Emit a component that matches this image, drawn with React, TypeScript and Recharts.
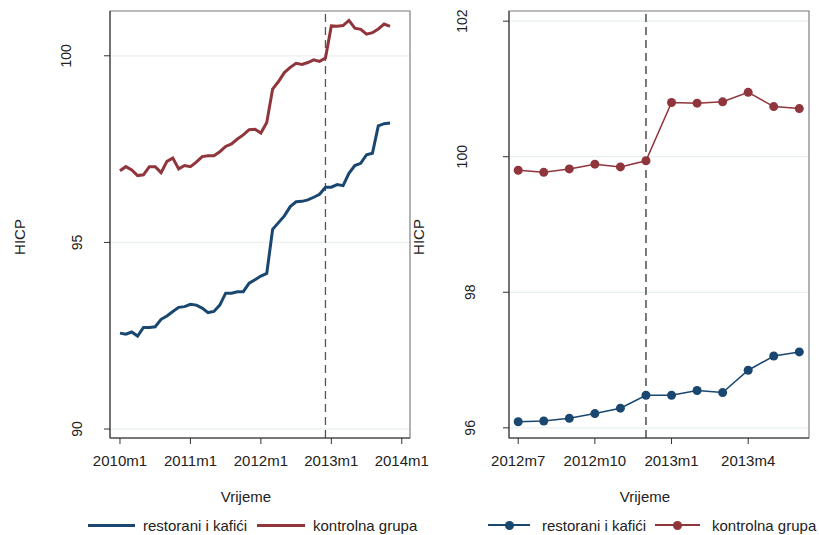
import React from 'react';
import { LineChart, Line, XAxis, YAxis, CartesianGrid, ReferenceLine, ReferenceArea } from 'recharts';

// HICP, monthly from 2010m1 to 2013m11
const restorani = [
  92.57, 92.54, 92.6, 92.49, 92.72, 92.72, 92.74, 92.94, 93.03, 93.15,
  93.26, 93.28, 93.34, 93.32, 93.24, 93.12, 93.15, 93.32, 93.64, 93.64,
  93.68, 93.68, 93.91, 94.0, 94.1, 94.17, 95.35, 95.53, 95.71, 95.96,
  96.09, 96.1, 96.14, 96.21, 96.29, 96.48, 96.48, 96.55, 96.52, 96.85,
  97.06, 97.12, 97.35, 97.39, 98.12, 98.18, 98.2,
];
const kontrolna = [
  96.92, 97.03, 96.94, 96.79, 96.81, 97.03, 97.03, 96.87, 97.17, 97.26,
  96.97, 97.06, 97.03, 97.15, 97.3, 97.32, 97.32, 97.43, 97.57, 97.64,
  97.77, 97.88, 98.02, 98.03, 97.93, 98.21, 99.11, 99.31, 99.55, 99.69,
  99.8, 99.77, 99.82, 99.89, 99.85, 99.94, 100.8, 100.79, 100.81, 100.95,
  100.74, 100.71, 100.58, 100.62, 100.72, 100.85, 100.79,
];

// left panel ticks (month index from 2010m1)
const leftTicks = [0, 12, 24, 36, 48];
const leftTickLabels = ['2010m1', '2011m1', '2012m1', '2013m1', '2014m1'];
const leftYTicks = [90, 95, 100];

// right panel: 2012m7 .. 2013m6 (index 30..41 of the full series)
const zoomStart = 30;
const zoomEnd = 42;
const rightTicks = [0, 3, 6, 9];
const rightTickLabels = ['2012m7', '2012m10', '2013m1', '2013m4'];
const rightYTicks = [96, 98, 100, 102];

const BLUE = '#1a476f';
const RED = '#90353b';
const GRID = '#e8f0f2';
const FONT = '"Liberation Sans", Arial, sans-serif';

const leftData = restorani.map((v, i) => ({ t: i, restorani: v, kontrolna: kontrolna[i] }));
const rightData = restorani
  .slice(zoomStart, zoomEnd)
  .map((v, i) => ({ t: i, restorani: v, kontrolna: kontrolna[zoomStart + i] }));

const YTick = ({ y, payload, cx3, cx2 }: any) => {
  const s = String(payload.value);
  const cx = s.length >= 3 ? cx3 : cx2;
  return (
    <text
      x={cx}
      y={y}
      transform={`rotate(-90 ${cx} ${y})`}
      textAnchor="middle"
      dominantBaseline="central"
      fontSize={14}
      fontFamily={FONT}
      fill="#222"
    >
      {s}
    </text>
  );
};

const AxisTitle = ({ x, y, text, rotate }: any) => (
  <text
    x={x}
    y={y}
    transform={rotate ? `rotate(-90 ${x} ${y})` : undefined}
    textAnchor="middle"
    dominantBaseline="central"
    fontSize={15}
    fontFamily={FONT}
    fill="#222"
  >
    {text}
  </text>
);

const LegendItem = ({ left, color, dot, thick, label, lineW, gap }: any) => (
  <div style={{ position: 'absolute', left, top: 515, height: 20, display: 'flex', alignItems: 'center' }}>
    <div style={{ position: 'relative', width: lineW, height: 20 }}>
      <div style={{ position: 'absolute', left: 0, right: 0, top: 10 - thick / 2, height: thick, background: color }} />
      {dot && (
        <div style={{ position: 'absolute', left: lineW / 2 - 4.5, top: 5.5, width: 9, height: 9, borderRadius: 5, background: color }} />
      )}
    </div>
    <span style={{ marginLeft: gap, fontSize: 15, color: '#222', whiteSpace: 'nowrap' }}>{label}</span>
  </div>
);

export default function App() {
  return (
    <div style={{ position: 'fixed', left: 0, top: 0, width: 819, height: 535, background: '#fff', fontFamily: FONT, overflow: 'hidden' }}>
      <div style={{ position: 'absolute', left: 410, top: 0 }}>
        <LineChart width={409} height={510} data={rightData} margin={{ top: 11, right: 10, left: 0, bottom: 0 }}>
          <CartesianGrid horizontal vertical={false} stroke={GRID} strokeWidth={1.2} />
          <ReferenceArea x1={-0.36} x2={11.38} y1={95.85} y2={102.15} fill="none" stroke="#808080" strokeWidth={1.2} />
          <XAxis
            dataKey="t"
            type="number"
            domain={[-0.36, 11.38]}
            ticks={rightTicks}
            allowDataOverflow
            height={72}
            tickSize={6}
            tickMargin={11}
            stroke="#333"
            tick={{ fontSize: 15, fill: '#222', fontFamily: FONT }}
            tickFormatter={(v: number) => rightTickLabels[rightTicks.indexOf(v)]}
            label={{ content: () => <AxisTitle x={235} y={496} text="Vrijeme" /> }}
          />
          <YAxis
            type="number"
            domain={[95.85, 102.15]}
            ticks={rightYTicks}
            allowDataOverflow
            width={99}
            tickSize={6}
            stroke="#333"
            tick={(p: any) => <YTick {...p} cx3={52} cx2={60} />}
            label={{ content: () => <AxisTitle x={8} y={237} text="HICP" rotate /> }}
          />
          <ReferenceLine x={5} stroke="#333" strokeWidth={1.3} strokeDasharray="8 5" />
          <Line
            dataKey="restorani"
            stroke={BLUE}
            strokeWidth={1.5}
            dot={{ r: 4.5, fill: BLUE, stroke: BLUE, strokeWidth: 0 }}
            isAnimationActive={false}
          />
          <Line
            dataKey="kontrolna"
            stroke={RED}
            strokeWidth={1.5}
            dot={{ r: 4.5, fill: RED, stroke: RED, strokeWidth: 0 }}
            isAnimationActive={false}
          />
        </LineChart>
      </div>

      <div style={{ position: 'absolute', left: 0, top: 0 }}>
        <LineChart width={440} height={510} data={leftData} margin={{ top: 11, right: 30, left: 0, bottom: 0 }}>
          <CartesianGrid horizontal vertical={false} stroke={GRID} strokeWidth={1.2} />
          <ReferenceArea x1={-1.7} x2={49.4} y1={89.76} y2={101.2} fill="none" stroke="#808080" strokeWidth={1.2} />
          <XAxis
            dataKey="t"
            type="number"
            domain={[-1.7, 49.4]}
            ticks={leftTicks}
            allowDataOverflow
            height={72}
            tickSize={6}
            tickMargin={11}
            stroke="#333"
            tick={{ fontSize: 15, fill: '#222', fontFamily: FONT }}
            tickFormatter={(v: number) => leftTickLabels[leftTicks.indexOf(v)]}
            label={{ content: () => <AxisTitle x={246} y={496} text="Vrijeme" /> }}
          />
          <YAxis
            type="number"
            domain={[89.76, 101.2]}
            ticks={leftYTicks}
            allowDataOverflow
            width={110}
            tickSize={6}
            stroke="#333"
            tick={(p: any) => <YTick {...p} cx3={66} cx2={77} />}
            label={{ content: () => <AxisTitle x={19} y={237} text="HICP" rotate /> }}
          />
          <ReferenceLine x={35} stroke="#555" strokeWidth={1.3} strokeDasharray="8 5" />
          <Line dataKey="restorani" stroke={BLUE} strokeWidth={3} dot={false} isAnimationActive={false} />
          <Line dataKey="kontrolna" stroke={RED} strokeWidth={3} dot={false} isAnimationActive={false} />
        </LineChart>
      </div>

      <LegendItem left={88} color={BLUE} thick={3} lineW={47} gap={8} label="restorani i kafići" />
      <LegendItem left={257} color={RED} thick={3} lineW={48} gap={8} label="kontrolna grupa" />
      <LegendItem left={488} color={BLUE} thick={1.5} lineW={42} gap={12} dot label="restorani i kafići" />
      <LegendItem left={655} color={RED} thick={1.5} lineW={45} gap={12} dot label="kontrolna grupa" />
    </div>
  );
}
